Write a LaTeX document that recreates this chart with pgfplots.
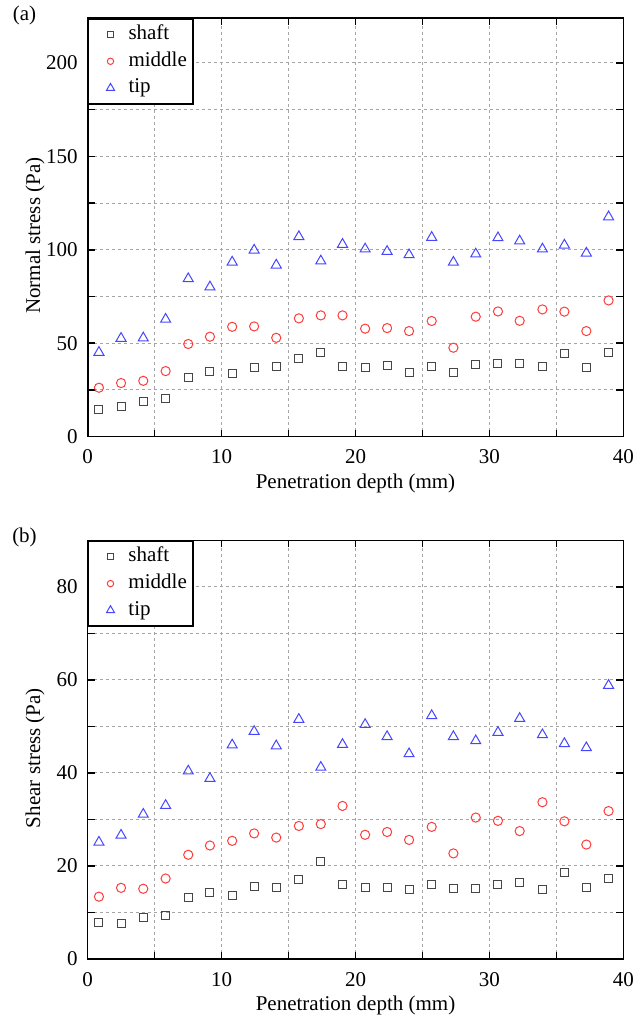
\documentclass[border=0pt]{standalone}
\usepackage{fontspec}
\setmainfont{Liberation Serif}
\usepackage{pgfplots}
\usepackage{pgfplotstable}
\pgfplotsset{compat=1.18}
\definecolor{cshaft}{RGB}{70,70,70}
\definecolor{cmid}{RGB}{255,60,60}
\definecolor{ctip}{RGB}{70,70,255}
\definecolor{cgrid}{RGB}{165,165,165}

\pgfplotstableread{
x shaft middle tip
0.84 14.8 26.2 45.1
2.49 16.0 28.7 52.6
4.15 18.9 29.9 52.8
5.82 20.7 35.1 62.8
7.51 31.6 49.6 84.5
9.13 34.8 53.5 80.1
10.79 33.9 58.8 93.4
12.43 36.9 59.0 99.8
14.08 37.3 52.9 91.8
15.77 42.1 63.3 107.0
17.41 45.3 64.9 94.0
19.03 37.6 64.9 102.9
20.72 36.9 57.8 100.4
22.36 38.3 58.1 99.1
24.00 34.4 56.5 97.3
25.69 37.6 61.9 106.6
27.31 34.4 47.6 93.3
28.98 38.7 64.2 97.7
30.64 38.9 67.0 106.4
32.26 39.0 62.0 104.7
33.96 37.3 68.1 100.4
35.60 44.4 66.9 102.5
37.24 37.1 56.5 98.2
38.90 44.9 72.9 117.6
}\normaldata

\pgfplotstableread{
x shaft middle tip
0.84 7.9 13.4 25.1
2.49 7.6 15.3 26.6
4.15 8.9 15.1 31.1
5.82 9.4 17.3 33.0
7.51 13.3 22.4 40.4
9.13 14.4 24.4 38.8
10.79 13.6 25.4 46.0
12.43 15.6 27.0 48.9
14.08 15.4 26.1 45.8
15.77 17.1 28.6 51.5
17.41 20.9 29.0 41.2
19.03 16.1 32.9 46.1
20.72 15.4 26.7 50.4
22.36 15.4 27.3 47.8
24.00 14.9 25.6 44.1
25.69 16.0 28.4 52.3
27.31 15.1 22.7 47.8
28.98 15.1 30.4 46.9
30.64 16.0 29.7 48.7
32.26 16.5 27.5 51.7
33.96 14.9 33.7 48.2
35.60 18.6 29.6 46.3
37.24 15.3 24.6 45.4
38.90 17.3 31.8 58.8
}\sheardata

\newcommand{\fs}{\fontsize{10.5}{12}\selectfont}

\pgfplotsset{
  myaxis/.style={
    width=267.8pt, height=209.35pt, scale only axis, clip mode=individual,
    xmin=0, xmax=40, xtick={0,10,20,30,40}, minor xtick={5,15,25,35},
    grid=both,
    major grid style={cgrid, dash pattern=on 1.5pt off 1.5pt, line width=0.5pt},
    minor grid style={cgrid, dash pattern=on 1.5pt off 1.5pt, line width=0.5pt},
    major tick length=3.5pt, minor tick length=3.5pt,
    tick style={black, line width=0.8pt},
    axis line style={line width=0.8pt},
    tick label style={font=\fs},
    label style={font=\fs},
    /pgf/number format/assume math mode=true,
    xticklabel style={yshift=-3pt},
    yticklabel style={xshift=-1.5pt},
    xlabel={Penetration depth (mm)},
    xlabel style={at={(axis description cs:0.5,0)}, anchor=center, yshift=-23.15pt},
    ylabel style={at={(axis description cs:-0.0984,0.48)}, anchor=center},
    legend cell align=left,
    legend style={at={(0,1)}, anchor=north west, draw=black, line width=0.8pt,
      fill=white, font=\fs, inner xsep=2pt, inner ysep=1.9pt, row sep=1.35pt,
      nodes={inner sep=1pt, text height=7.5pt, text depth=2.5pt},
      /tikz/every even column/.append style={column sep=5pt}},
  },
  shaftst/.style={only marks, mark=square, mark size=2pt, color=cshaft,
    mark options={line width=0.5pt},
    legend image code/.code={%
      \path[draw=none, fill=none] (0pt,-2pt) rectangle (17pt,2pt);
      \draw[only marks, mark=square, mark size=1.5pt, cshaft, line width=0.5pt]
        plot coordinates {(9pt,0pt)};}},
  midst/.style={only marks, mark=o, mark size=2.3pt, color=cmid,
    mark options={line width=0.5pt},
    legend image code/.code={%
      \path[draw=none, fill=none] (0pt,-2pt) rectangle (17pt,2pt);
      \draw[only marks, mark=o, mark size=1.6pt, cmid, line width=0.5pt]
        plot coordinates {(9pt,0pt)};}},
  tipst/.style={only marks, mark=triangle, mark size=2.9pt, color=ctip,
    mark options={line width=0.5pt},
    legend image code/.code={%
      \path[draw=none, fill=none] (0pt,-2pt) rectangle (17pt,2pt);
      \draw[only marks, mark=triangle, mark size=2.3pt, ctip, line width=0.5pt]
        plot coordinates {(9pt,0pt)};}},
}

\begin{document}
\begin{tikzpicture}
\useasboundingbox (-43.85pt,-292.15pt) rectangle (273.65pt,218.35pt);
\begin{axis}[myaxis, at={(0pt,0pt)}, anchor=south west,
  ymin=0, ymax=224, ytick={0,50,100,150,200}, minor ytick={25,75,125,175},
  ylabel={Normal stress (Pa)}]
  \addplot[shaftst] table[x=x, y=shaft] {\normaldata};
  \addlegendentry{shaft}
  \addplot[midst] table[x=x, y=middle] {\normaldata};
  \addlegendentry{middle}
  \addplot[tipst] table[x=x, y=tip] {\normaldata};
  \addlegendentry{tip}
  \node[font=\fs] at (axis description cs:-0.118,1.005) {(a)};
\end{axis}
\begin{axis}[myaxis, at={(0pt,-261.15pt)}, anchor=south west,
  ymin=0, ymax=90, ytick={0,20,40,60,80}, minor ytick={10,30,50,70},
  ylabel={Shear stress (Pa)}]
  \addplot[shaftst] table[x=x, y=shaft] {\sheardata};
  \addlegendentry{shaft}
  \addplot[midst] table[x=x, y=middle] {\sheardata};
  \addlegendentry{middle}
  \addplot[tipst] table[x=x, y=tip] {\sheardata};
  \addlegendentry{tip}
  \node[font=\fs] at (axis description cs:-0.118,1.007) {(b)};
\end{axis}
\end{tikzpicture}
\end{document}
